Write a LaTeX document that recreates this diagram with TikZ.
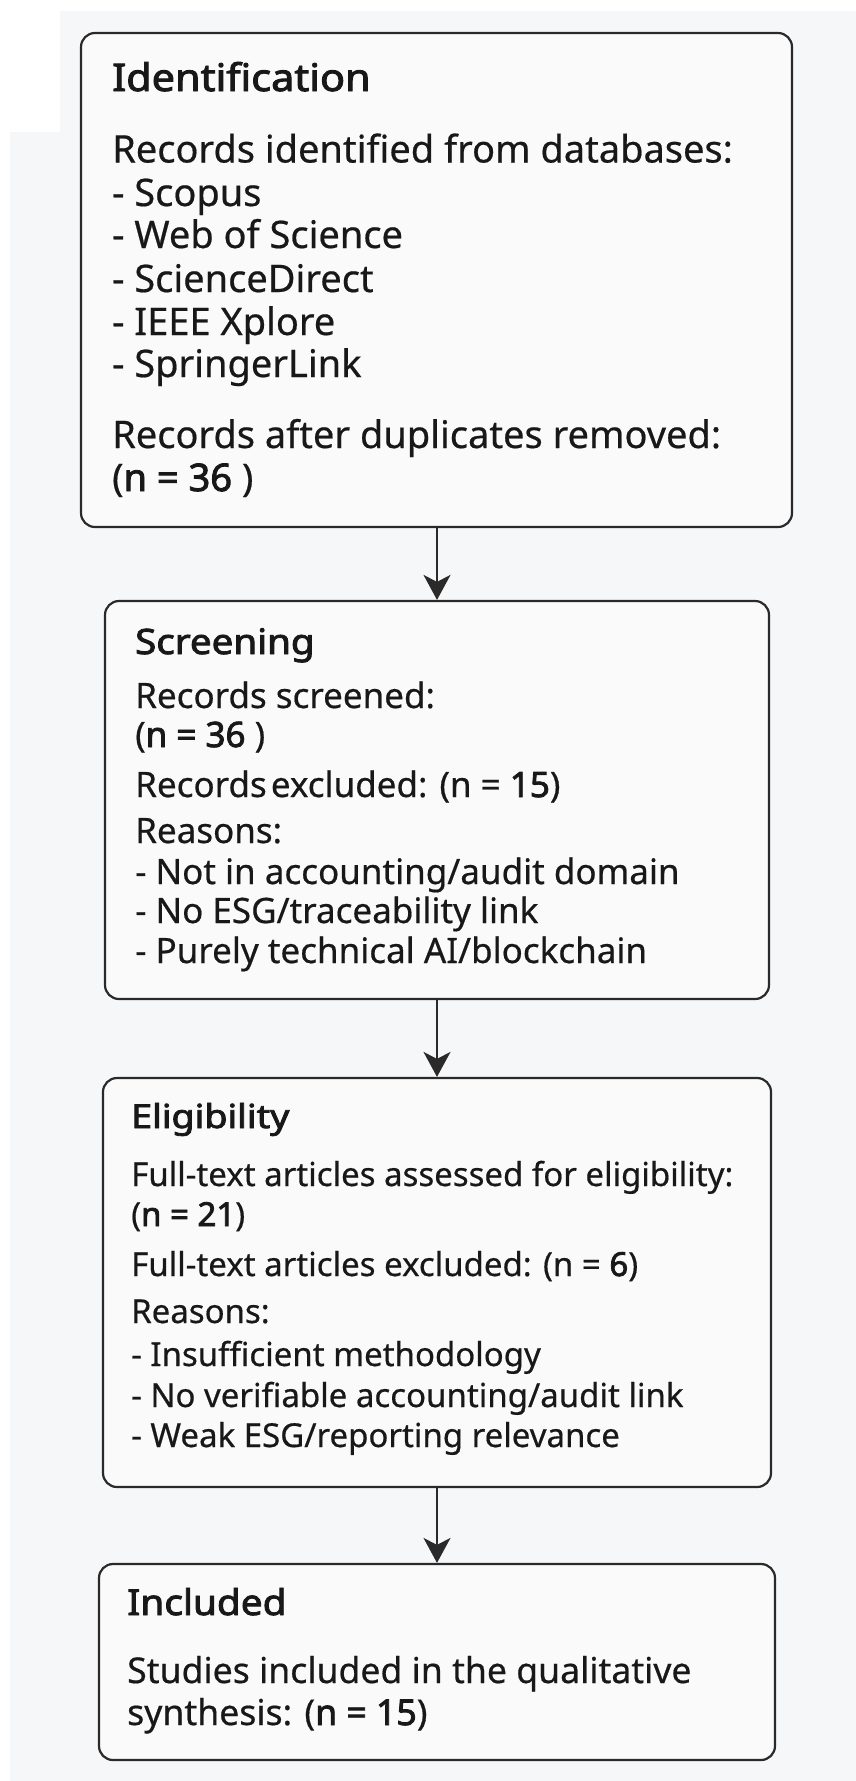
\documentclass[tikz,border=0pt]{standalone}
\usepackage{fontspec}
\setmainfont{Noto Sans}[UprightFeatures={FakeBold=0.5}, BoldFont={Noto Sans}, BoldFeatures={FakeBold=2.4}]
\usetikzlibrary{arrows.meta}
\definecolor{bgc}{HTML}{F6F7F9}
\definecolor{boxfill}{HTML}{FAFAFB}
\definecolor{linec}{HTML}{2A2A2A}
\definecolor{textc}{HTML}{181818}
\newcommand{\hd}[2]{\scalebox{#1}[1]{\textbf{#2}}}
\tikzset{
  stage/.style={draw=linec, line width=2.2pt, rounded corners=14pt, fill=boxfill, inner sep=0pt},
  txt/.style={anchor=base west, inner sep=0pt, text=textc},
  arr/.style={draw=linec, line width=2.2pt, -{Stealth[length=25pt,width=27pt,inset=7pt]}},
  fa/.style={font=\fontsize{38}{42}\selectfont},
  fb/.style={font=\fontsize{35}{40}\selectfont},
  fc/.style={font=\fontsize{33}{40}\selectfont},
  fd/.style={font=\fontsize{35.6}{42}\selectfont},
}
\begin{document}
\begin{tikzpicture}[x=1pt,y=-1pt]
\useasboundingbox (0,0) rectangle (856,1781);
\fill[white] (0,0) rectangle (856,1781);
\fill[bgc] (60,11) -- (856,11) -- (856,1781) -- (10,1781) -- (10,132) -- (60,132) -- cycle;

% boxes
\node[stage, minimum width=711pt, minimum height=494pt] (b1) at (436.5,280) {};
\node[stage, minimum width=664pt, minimum height=398pt] (b2) at (437,800) {};
\node[stage, minimum width=668pt, minimum height=409pt] (b3) at (437,1282.5) {};
\node[stage, minimum width=676pt, minimum height=196pt] (b4) at (437,1662) {};

% box 1 texts
\node[txt,fa] (t11) at (112,91) {\hd{1.09}{Identification}};
\node[txt,fa] (t12) at (112,162.5) {Records identified from databases:};
\node[txt,fa] (t13) at (112,206) {- Scopus};
\node[txt,fa] (t14) at (112,248) {- Web of Science};
\node[txt,fa] (t15) at (112,292) {- ScienceDirect};
\node[txt,fa] (t16) at (112,335) {- IEEE Xplore};
\node[txt,fa] (t17) at (112,377) {- SpringerLink};
\node[txt,fa] (t18) at (112,448) {Records after duplicates removed:};
\node[txt,fa] (t19) at (112,491) {(\textbf{n = 36} )};

% box 2 texts
\node[txt,fb] (t21) at (135,654) {\hd{1.1}{Screening}};
\node[txt,fb] (t22) at (135,708) {Records screened:};
\node[txt,fb] (t23) at (135,747) {(\textbf{n = 36} )};
\node[txt,fb] (t24) at (135,797) {Records\hspace{0.12em}excluded: (n = \textbf{15})};
\node[txt,fb] (t25) at (135,843) {Reasons:};
\node[txt,fb] (t26) at (135,884) {- Not in accounting/audit domain};
\node[txt,fb] (t27) at (135,923) {- No ESG/traceability link};
\node[txt,fb] (t28) at (135,963) {- Purely technical AI/blockchain};

% box 3 texts
\node[txt,fc] (t31) at (131,1128) {\hd{1.14}{Eligibility}};
\node[txt,fc] (t32) at (131,1186) {Full-text articles assessed for eligibility:};
\node[txt,fc] (t33) at (131,1226) {(\textbf{n = 21})};
\node[txt,fc] (t34) at (131,1276) {Full-text articles excluded: (n = \textbf{6})};
\node[txt,fc] (t35) at (131,1323) {Reasons:};
\node[txt,fc] (t36) at (131,1366) {- Insufficient methodology};
\node[txt,fc] (t37) at (131,1407) {- No verifiable accounting/audit link};
\node[txt,fc] (t38) at (131,1447) {- Weak ESG/reporting relevance};

% box 4 texts
\node[txt,fd] (t41) at (127,1615) {\hd{1.09}{Included}};
\node[txt,fd] (t42) at (127,1683) {Studies included in the qualitative};
\node[txt,fd] (t43) at (127,1725) {synthesis: (\textbf{n = 15})};

% arrows
\draw[arr] (b1.south -| b2.north) -- (b2.north);
\draw[arr] (b2.south) -- (b3.north);
\draw[arr] (b3.south) -- (b4.north);
\end{tikzpicture}
\end{document}
